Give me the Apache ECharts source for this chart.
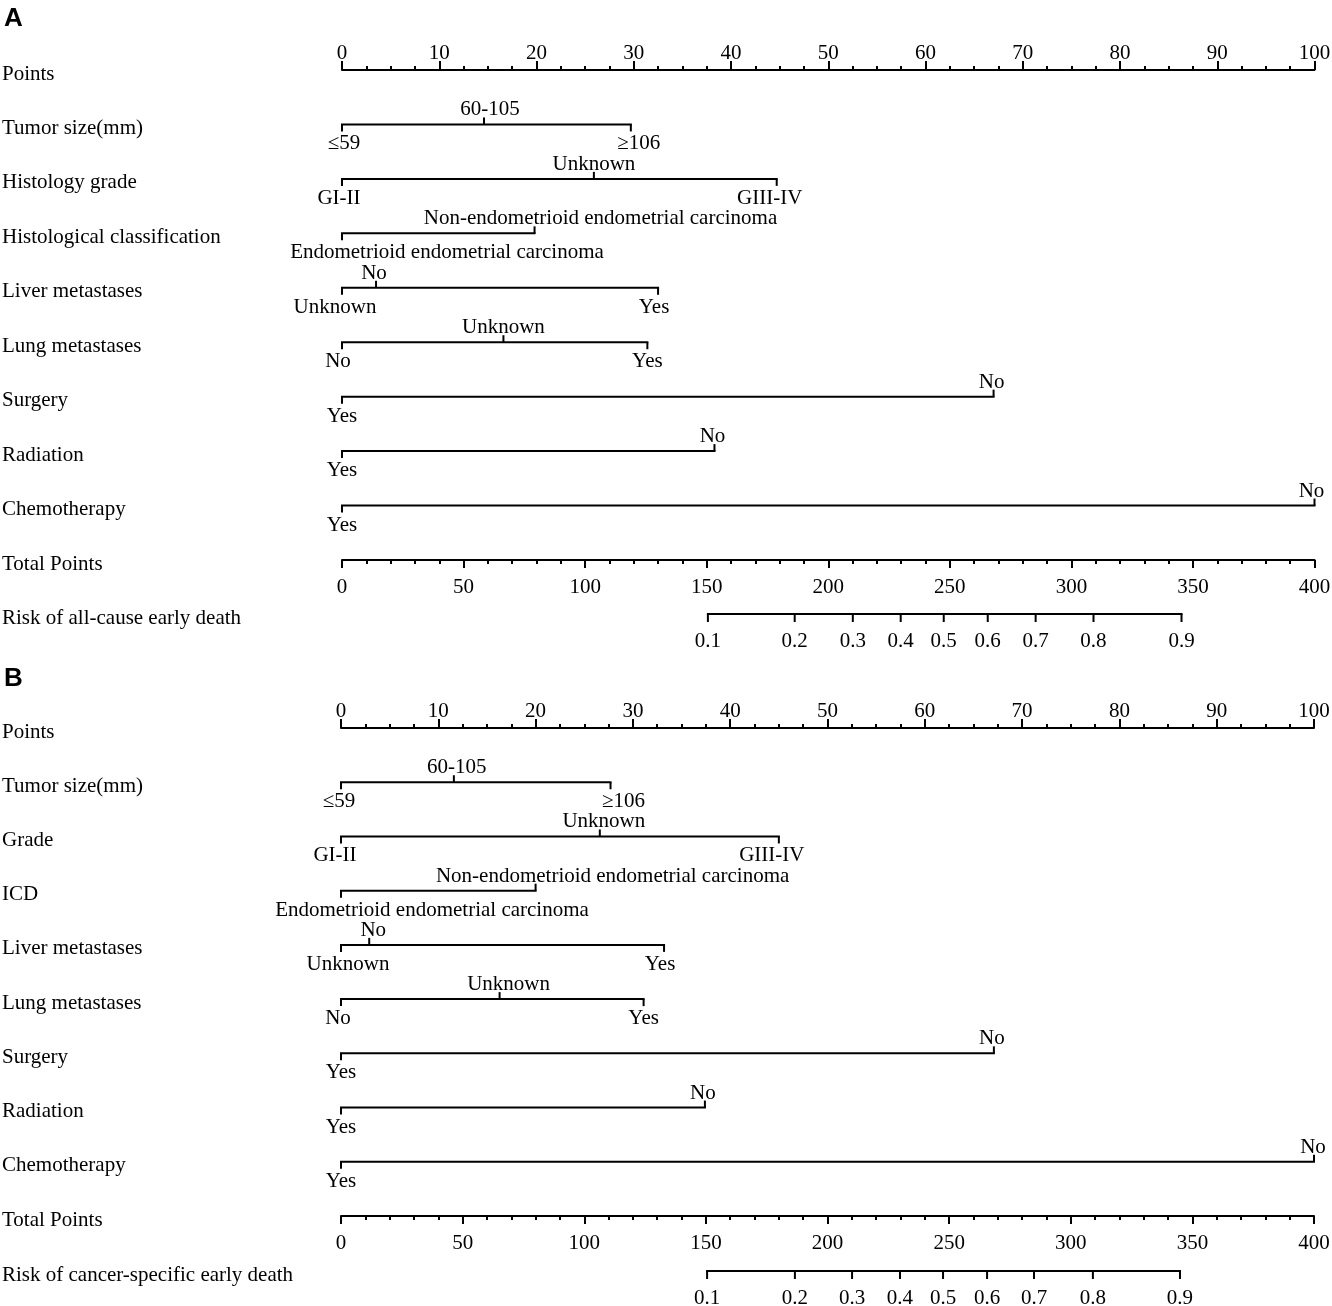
<!DOCTYPE html>
<html><head><meta charset="utf-8">
<script src="https://cdn.jsdelivr.net/npm/echarts@6.0.0/dist/echarts.min.js"></script>
<style>html,body{margin:0;padding:0;background:#fff}#c{width:1332px;height:1306px}</style>
</head><body><div id="c"></div>
<script>
// ---------- Panel A data ----------
const rowNamesA = ['Points','Tumor size(mm)','Histology grade','Histological classification','Liver metastases','Lung metastases','Surgery','Radiation','Chemotherapy','Total Points'];
const riskTitleA = 'Risk of all-cause early death';
const tumorLevels = ['\u226459','60-105','\u2265106'];
const gradeLevels = ['GI-II','Unknown','GIII-IV'];
const classLevels = ['Endometrioid endometrial carcinoma','Non-endometrioid endometrial carcinoma'];
const liverLevels = ['Unknown','No','Yes'];
const lungLevels = ['No','Unknown','Yes'];
const surgeryLevels = ['Yes','No'];
const radiationLevels = ['Yes','No'];
const chemoLevels = ['Yes','No'];

const tumorPtsA = [0, 14.6, 29.7];
const gradePtsA = [0, 25.9, 44.7];
const classPtsA = [0, 19.8];
const liverPtsA = [0, 3.5, 32.5];
const lungPtsA = [0, 16.6, 31.4];
const surgeryPtsA = [0, 67.0];
const radiationPtsA = [0, 38.3];
const chemoPtsA = [0, 100];

const riskLabels = ['0.1','0.2','0.3','0.4','0.5','0.6','0.7','0.8','0.9'];
const riskPtsA = [150.5, 186.2, 210.1, 229.8, 247.5, 265.6, 285.3, 309.1, 345.3];

// ---------- Panel B data ----------
const rowNamesB = ['Points','Tumor size(mm)','Grade','ICD','Liver metastases','Lung metastases','Surgery','Radiation','Chemotherapy','Total Points'];
const riskTitleB = 'Risk of cancer-specific early death';
const tumorPtsB = [0, 11.6, 27.7];
const gradePtsB = [0, 26.6, 45.0];
const classPtsB = [0, 20.0];
const liverPtsB = [0, 2.9, 33.2];
const lungPtsB = [0, 16.3, 31.1];
const surgeryPtsB = [0, 67.1];
const radiationPtsB = [0, 37.4];
const chemoPtsB = [0, 100];
const riskPtsB = [150.5, 186.6, 210.1, 229.8, 247.5, 265.6, 284.9, 309.1, 344.9];

// axis scales
const pointsMax = 100, pointsStep = 10;
const totalMax = 400, totalStep = 50;

// ---------- styling / layout (not data) ----------
const FONT = '"Liberation Serif","Times New Roman",serif';
const FS = 21;
// horizontal label nudges (px) per row / level
const shiftA = [[2,6,8],[-3,0,-7],[105,66],[-7,-2,-4],[-4,0,0],[0,-2],[0,-2],[0,-3]];
const shiftB = [[-2,3,13],[-6,4,-7],[91,77],[7,4,-4],[-3,9,0],[0,-2],[0,-2],[0,-1]];

const panels = [
  {letter:'A', rowNames:rowNamesA, riskTitle:riskTitleA,
   rows:[[tumorLevels,tumorPtsA],[gradeLevels,gradePtsA],[classLevels,classPtsA],[liverLevels,liverPtsA],[lungLevels,lungPtsA],[surgeryLevels,surgeryPtsA],[radiationLevels,radiationPtsA],[chemoLevels,chemoPtsA]],
   riskPts:riskPtsA, shifts:shiftA,
   L:{left:342, right:17.5, top:70, height:490, riskTop:614, letterTop:6}},
  {letter:'B', rowNames:rowNamesB, riskTitle:riskTitleB,
   rows:[[tumorLevels,tumorPtsB],[gradeLevels,gradePtsB],[classLevels,classPtsB],[liverLevels,liverPtsB],[lungLevels,lungPtsB],[surgeryLevels,surgeryPtsB],[radiationLevels,radiationPtsB],[chemoLevels,chemoPtsB]],
   riskPts:riskPtsB, shifts:shiftB,
   L:{left:341, right:18, top:728, height:488, riskTop:1271, letterTop:666}}
];

const LS = {stroke:'#000', lineWidth:2};

function makeRowRender(texts){
  return function(params, api){
    const x = api.value(0), row = api.value(1), li = api.value(2), rmax = api.value(3), dx = api.value(4);
    const p = api.coord([x, row]);
    const up = li % 2 === 1;
    const ch = [];
    if (li === 0) {
      const q = api.coord([rmax, row]);
      ch.push({type:'line', shape:{x1:p[0], y1:p[1], x2:q[0], y2:q[1]}, style:Object.assign({lineCap:'square'}, LS)});
    }
    ch.push({type:'line', shape:{x1:p[0], y1:p[1], x2:p[0], y2:p[1] + (up ? -7 : 7)}, style:LS});
    ch.push({type:'text', x:p[0] + dx, y: up ? p[1] - 4 : p[1] + 9,
      style:{text:texts[params.dataIndex], fill:'#000', fontSize:FS, fontFamily:FONT,
             align:'center', verticalAlign: up ? 'bottom' : 'top'}});
    return {type:'group', children:ch};
  };
}
function makeRiskRender(texts){
  return function(params, api){
    const x = api.value(0), row = api.value(1), i = api.value(2), a = api.value(3), b = api.value(4);
    const p = api.coord([x, row]);
    const ch = [];
    if (i === 0) {
      const p0 = api.coord([a, row]), p1 = api.coord([b, row]);
      ch.push({type:'line', shape:{x1:p0[0], y1:p0[1], x2:p1[0], y2:p1[1]}, style:Object.assign({lineCap:'square'}, LS)});
    }
    ch.push({type:'line', shape:{x1:p[0], y1:p[1], x2:p[0], y2:p[1] + 8}, style:LS});
    ch.push({type:'text', x:p[0], y:p[1] + 17,
      style:{text:texts[params.dataIndex], fill:'#000', fontSize:FS, fontFamily:FONT, align:'center', verticalAlign:'top'}});
    return {type:'group', children:ch};
  };
}

const option = {animation:false, backgroundColor:'#fff', title:[], grid:[], xAxis:[], yAxis:[], series:[]};

panels.forEach(P => {
  const g0 = option.grid.length;
  const L = P.L;
  option.grid.push({left:L.left, right:L.right, top:L.top, height:L.height, containLabel:false, outerBoundsMode:'none', show:false});
  option.grid.push({left:L.left, right:L.right, top:L.riskTop, height:30, containLabel:false, outerBoundsMode:'none', show:false});
  const xi = option.xAxis.length;
  const lbl = {color:'#000', fontSize:FS, fontFamily:FONT};
  option.xAxis.push({gridIndex:g0, type:'value', position:'top', min:0, max:pointsMax, interval:pointsStep,
    axisLine:{show:true, onZero:false, lineStyle:{color:'#000', width:2}},
    axisTick:{show:true, length:9, lineStyle:{color:'#000', width:2}},
    minorTick:{show:true, splitNumber:4, length:4, lineStyle:{color:'#000', width:2}},
    axisLabel:Object.assign({margin:6, hideOverlap:false}, lbl),
    splitLine:{show:false}, minorSplitLine:{show:false}});
  option.xAxis.push({gridIndex:g0, type:'value', position:'bottom', min:0, max:totalMax, interval:totalStep,
    axisLine:{show:true, onZero:false, lineStyle:{color:'#000', width:2}},
    axisTick:{show:true, length:8, lineStyle:{color:'#000', width:2}},
    minorTick:{show:true, splitNumber:5, length:4, lineStyle:{color:'#000', width:2}},
    axisLabel:Object.assign({margin:17, hideOverlap:false}, lbl),
    splitLine:{show:false}, minorSplitLine:{show:false}});
  option.xAxis.push({gridIndex:g0 + 1, type:'value', min:0, max:totalMax, show:false});
  const yi = option.yAxis.length;
  const yLab = Object.assign({align:'left', margin:L.left - 2, interval:0, verticalAlign:'top', lineHeight:8}, lbl);
  option.yAxis.push({gridIndex:g0, type:'category', data:P.rowNames, inverse:true, boundaryGap:false,
    axisLine:{show:false}, axisTick:{show:false}, splitLine:{show:false}, axisLabel:yLab});
  option.yAxis.push({gridIndex:g0 + 1, type:'category', data:[P.riskTitle, ''], inverse:true, boundaryGap:false,
    axisLine:{show:false}, axisTick:{show:false}, splitLine:{show:false}, axisLabel:yLab});

  const rowData = [], rowText = [];
  P.rows.forEach((r, ri) => {
    const levels = r[0], pts = r[1];
    const rmax = Math.max.apply(null, pts);
    levels.forEach((lv, li) => { rowData.push([pts[li], ri + 1, li, rmax, P.shifts[ri][li]]); rowText.push(lv); });
  });
  option.series.push({type:'custom', coordinateSystem:'cartesian2d', xAxisIndex:xi, yAxisIndex:yi,
    data:rowData, renderItem:makeRowRender(rowText), clip:false, silent:true});
  const rp = P.riskPts;
  option.series.push({type:'custom', coordinateSystem:'cartesian2d', xAxisIndex:xi + 2, yAxisIndex:yi + 1,
    data:rp.map((v, i) => [v, 0, i, rp[0], rp[rp.length - 1]]), renderItem:makeRiskRender(riskLabels), clip:false, silent:true});

  option.title.push({text:P.letter, left:4, top:L.letterTop, padding:0,
    textStyle:{color:'#000', fontSize:26, fontWeight:'bold', fontFamily:'"Liberation Sans",Arial,sans-serif'}});
});

const chart = echarts.init(document.getElementById('c'), null, {renderer:'canvas'});
chart.setOption(option);
</script>
</body></html>
